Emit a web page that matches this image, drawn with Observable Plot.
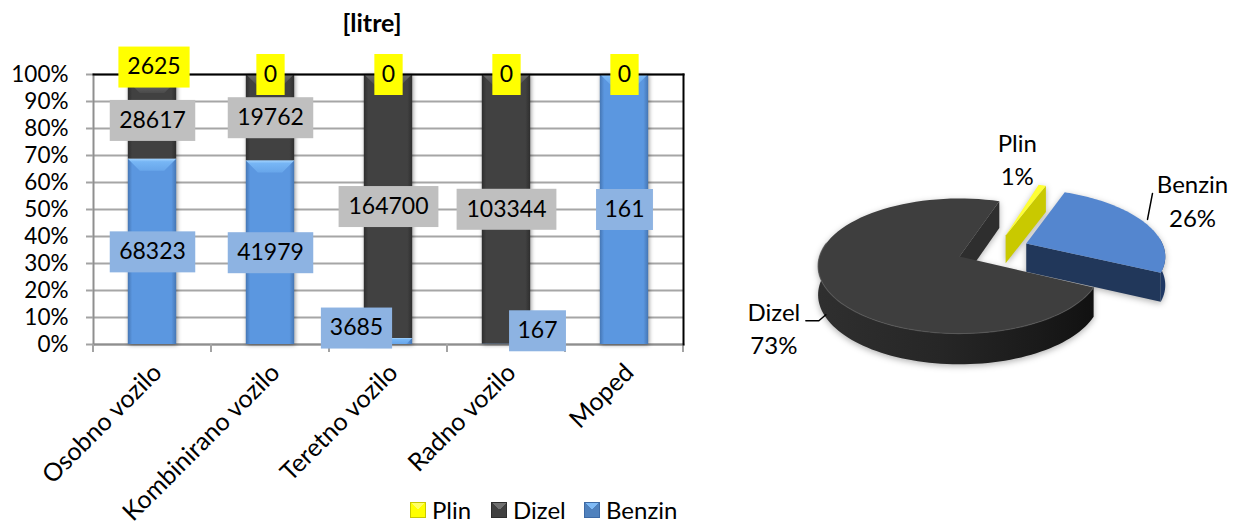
<!DOCTYPE html>
<html><head><meta charset="utf-8">
<script src="https://cdn.jsdelivr.net/npm/d3@7"></script>
<script src="https://cdn.jsdelivr.net/npm/@observablehq/plot@0.6"></script>
<style>
html,body{margin:0;padding:0;background:#fff}
#page{position:relative;width:1235px;height:527px;overflow:hidden;font-family:Lato,sans-serif;color:#000}
#page svg{position:absolute;top:0;background:transparent;overflow:visible}
#title{position:absolute;left:272px;width:200px;top:8px;text-align:center;font-weight:700;font-size:25px;line-height:28px}
.lg{position:absolute;top:495px;font-size:24px;line-height:30px;white-space:nowrap}
.sw{position:absolute;top:502px;width:14px;height:14px;border:1px solid}
g[aria-label="bar"]{filter:drop-shadow(1px 1px 2px rgba(0,0,0,.4))}
</style></head><body>
<div id="page"></div>
<script>
// ---------- data ----------
const categories = ["Osobno vozilo","Kombinirano vozilo","Teretno vozilo","Radno vozilo","Moped"];
const fuels = ["Benzin","Dizel","Plin"];
const benzin = [68323,41979,3685,167,161];
const dizel  = [28617,19762,164700,103344,0];
const plin   = [2625,0,0,0,0];
const yTicks = [0,.1,.2,.3,.4,.5,.6,.7,.8,.9,1];
const pieNames  = ["Plin","Benzin","Dizel"];
const pieShares = [1,26,73];

// ---------- tables ----------
const series = {Benzin:benzin,Dizel:dizel,Plin:plin};
const rows = [];
categories.forEach((cat,c)=>{
  const total = d3.sum(fuels,f=>series[f][c]);
  let run = 0;
  fuels.forEach(f=>{
    const value = series[f][c];
    rows.push({cat,fuel:f,value,mid:(run+value/2)/total});
    run += value;
  });
});
const labelRows = rows.filter(d=>!(d.fuel==="Dizel"&&d.value===0));
const boxColor = {Benzin:"#8db3e2",Dizel:"#bfbfbf",Plin:"#ffff00"};
const nudge = {2625:[1.5,-11],3685:[-32,-13.5],167:[31,-13.5]};
const bevel = {Benzin:"url(#bevB)",Dizel:"url(#bevD)",Plin:"#ffff66"};

const svgEl = (n,a)=>{const e=document.createElementNS("http://www.w3.org/2000/svg",n);for(const k in a)e.setAttribute(k,a[k]);return e;};
function grad(id,vertical,stops){
  const g=svgEl("linearGradient",{id,x1:0,y1:0,x2:vertical?0:1,y2:vertical?1:0});
  stops.forEach(([o,c])=>g.appendChild(svgEl("stop",{offset:o,"stop-color":c})));return g;
}
const barDefs = ()=>{
  const d=svgEl("defs",{});
  d.appendChild(grad("barB",false,[[0,"#4576b4"],[.09,"#5b97e0"],[.9,"#5b97e0"],[1,"#4576b4"]]));
  d.appendChild(grad("barD",false,[[0,"#2e2e2e"],[.09,"#414141"],[.9,"#414141"],[1,"#2e2e2e"]]));
  d.appendChild(grad("barP",false,[[0,"#d0d000"],[.09,"#ffff00"],[.9,"#ffff00"],[1,"#d0d000"]]));
  d.appendChild(grad("bevB",true,[[0,"#a3d4ff"],[.25,"#77b6f5"],[1,"#68a6ea"]]));
  d.appendChild(grad("bevD",true,[[0,"#6d6d6d"],[1,"#4a4a4a"]]));
  return d;
};
function withBevel(index,scales,values,dims,ctx,next){
  const g=next(index,scales,values,dims,ctx);
  const rects=[...g.querySelectorAll("rect")];
  index.forEach((i,j)=>{
    const r=rects[j]; if(!r) return;
    const x=+r.getAttribute("x"),y=+r.getAttribute("y"),w=+r.getAttribute("width"),h=+r.getAttribute("height");
    if(!(h>0.6)) return;
    const b=Math.min(h,12);
    r.parentNode.appendChild(svgEl("polygon",{points:`${x},${y} ${x+w},${y} ${x+w-b},${y+b} ${x+b},${y+b}`,fill:bevel[rows[i].fuel]}));
  });
  return g;
}
function withBoxes(index,scales,values,dims,ctx,next){
  const g=next(index,scales,values,dims,ctx);
  const texts=[...g.querySelectorAll("text")];
  index.forEach((i,j)=>{
    const t=texts[j],d=labelRows[i];
    const m=/translate\(([-\d.]+)[ ,]+([-\d.]+)\)/.exec(t.getAttribute("transform"));
    const [dx,dy]=nudge[d.value]||[0,0];
    const X=+m[1]+dx,Y=+m[2]+dy;
    t.setAttribute("transform",`translate(${X},${Y})`);
    const w=14.3*String(d.value).length+14;
    t.parentNode.insertBefore(svgEl("rect",{x:X-w/2,y:Y-20.5,width:w,height:41,fill:boxColor[d.fuel]}),t);
  });
  return g;
}
const withShadow=(css)=>(index,scales,values,dims,ctx,next)=>{
  const g=next(index,scales,values,dims,ctx);
  g.style.filter=css;
  return g;
};
const bandTicks=(index,{x})=>{
  const g=svgEl("g",{stroke:"#a3a3a3","stroke-width":2});
  const step=x.step(),bw=x.bandwidth(),first=x(categories[0])-(step-bw)/2;
  d3.range(categories.length+1).forEach(k=>{
    const X=first+k*step;
    g.appendChild(svgEl("line",{x1:X,x2:X,y1:344,y2:352}));
  });
  return g;
};

const bars = Plot.plot({
  width:700,height:527,marginLeft:93,marginRight:17,marginTop:74,marginBottom:183,
  style:{fontFamily:"Lato,sans-serif",fontSize:"22.5px",background:"transparent",color:"#000"},
  x:{domain:categories,paddingInner:.59,paddingOuter:.295,round:false,label:null},
  y:{domain:[0,1],label:null},
  color:{domain:fuels,range:["url(#barB)","url(#barD)","url(#barP)"]},
  marks:[
    barDefs,
    Plot.gridY(yTicks,{stroke:"#a6a6a6",strokeWidth:2,strokeOpacity:1}),
    Plot.frame({anchor:"left",stroke:"#8f8f8f",strokeWidth:2}),
    Plot.frame({anchor:"bottom",stroke:"#8f8f8f",strokeWidth:2}),
    bandTicks,
    Plot.axisY({ticks:yTicks,tickFormat:d=>Math.round(d*100)+"%",tickSize:7,tickPadding:18,stroke:"#a3a3a3",strokeWidth:2,fontSize:22.5,label:null}),
    Plot.axisX({tickRotate:-45,tickSize:0,tickPadding:24,dx:5,fontSize:25,label:null,lineWidth:30}),
    Plot.barY(rows,Plot.stackY({x:"cat",y:"value",fill:"fuel",offset:"normalize",order:null,render:withBevel})),
    Plot.frame({anchor:"top",stroke:"#000",strokeWidth:2}),
    Plot.frame({anchor:"right",stroke:"#000",strokeWidth:2}),
    Plot.text(labelRows,{x:"cat",y:"mid",text:d=>String(d.value),fill:"#000",fontSize:23,render:withBoxes})
  ]
});
document.getElementById("page").appendChild(bars);
bars.style.left="0px";

// ---------- 3D pie ----------
const P={cx:959,cy:256,R:140,Q:66.2,k:.141,D:28.5};
const rad=a=>a*Math.PI/180;
const explode={Plin:[.345,.332],Benzin:[.49,.2],Dizel:[0,0]};
const startAngle=rad(18.8);
const arcs=d3.pie().sort(null).value(d=>d.share).startAngle(startAngle).endAngle(startAngle+2*Math.PI)(pieNames.map((name,i)=>({name,share:pieShares[i]})));
const arcOf=Object.fromEntries(arcs.map(a=>[a.data.name,a]));
function proj(name,a,r=1,down=false){
  const [eu,ev]=explode[name];
  const u=r*Math.sin(a)+eu,v=r*Math.cos(a)+ev,w=1+P.k*v;
  return {x:P.cx+P.R*u/w,y:P.cy-P.Q*v/w+(down?P.D/Math.sqrt(w):0)};
}
const steps=(a,b,n=80)=>d3.range(n+1).map(i=>a+(b-a)*i/n);
const pts=[];
const add=(part,list)=>list.forEach(p=>pts.push({part,x:p.x,y:p.y}));
const topFace=n=>{const A=arcOf[n];return [proj(n,0,0),...steps(A.startAngle,A.endAngle).map(a=>proj(n,a))];};
const wallOuter=(n,a,b)=>{const s=steps(a,b);return [...s.map(t=>proj(n,t)),...s.slice().reverse().map(t=>proj(n,t,1,true))];};
const wallCut=(n,a)=>[proj(n,0,0),proj(n,a),proj(n,a,1,true),proj(n,0,0,true)];
const D=arcOf.Dizel,B=arcOf.Benzin,L=arcOf.Plin;
add("dizelOuter",wallOuter("Dizel",D.startAngle,rad(282)));
add("dizelCut",wallCut("Dizel",D.endAngle));
add("dizelTop",topFace("Dizel"));
add("plinWall",wallCut("Plin",L.endAngle));
add("plinTop",topFace("Plin"));
add("benzinOuter",wallOuter("Benzin",rad(85),B.endAngle));
add("benzinCut",wallCut("Benzin",B.endAngle));
add("benzinTop",topFace("Benzin"));
const partNames=[...new Set(pts.map(d=>d.part))];
const partFill=["url(#wallD)","#2e2e2e","#3e3e3e","#c9c900","#ffff33","#1f3864","#21375a","#5486cf"];
const rim=steps(D.startAngle,rad(282)).map(a=>proj("Dizel",a));

const midOf=n=>(arcOf[n].startAngle+arcOf[n].endAngle)/2;
const labelOffset={Plin:[-25,-27],Benzin:[48,-23],Dizel:[-49,14]};
const pieLabels=pieNames.map((name,i)=>{
  const p=proj(name,midOf(name),1,name==="Dizel");
  const [ox,oy]=labelOffset[name];
  return {text:`${name}\n${pieShares[i]}%`,x:p.x+ox,y:p.y+oy};
});
const leader=[];
{
  const b=proj("Benzin",midOf("Benzin"));
  leader.push({n:"b",x:b.x+3,y:b.y-3},{n:"b",x:b.x+8,y:b.y-29});
  const d=proj("Dizel",midOf("Dizel"),1,true);
  leader.push({n:"d",x:d.x+3,y:d.y+2},{n:"d",x:d.x-4,y:d.y+8},{n:"d",x:d.x-17,y:d.y+8});
}
const pieDefs=()=>{
  const d=svgEl("defs",{});
  d.appendChild(grad("wallD",false,[[0,"#2f2f2f"],[.45,"#262626"],[.8,"#1a1a1a"],[1,"#111"]]));
  return d;
};
const pie=Plot.plot({
  width:535,height:527,margin:0,
  style:{fontFamily:"Lato,sans-serif",fontSize:"24px",background:"transparent",color:"#000"},
  x:{domain:[700,1235],axis:null},
  y:{domain:[0,527],range:[0,527],axis:null},
  color:{domain:partNames,range:partFill},
  marks:[
    pieDefs,
    Plot.line(pts,{x:"x",y:"y",z:"part",fill:"part",stroke:"none",curve:"linear",render:withShadow("drop-shadow(0 2px 3px rgba(0,0,0,.3))")}),
    Plot.line(rim,{x:"x",y:"y",stroke:"#5a5a5a",strokeWidth:1.2,strokeOpacity:.7}),
    Plot.line(leader,{x:"x",y:"y",z:"n",stroke:"#000",strokeWidth:1.5}),
    Plot.text(pieLabels,{x:"x",y:"y",text:"text",fill:"#000",fontSize:24,lineHeight:1.38,textAnchor:"middle"})
  ]
});
pie.style.left="700px";
document.getElementById("page").appendChild(pie);

// ---------- title and legend ----------
const page=document.getElementById("page");
const title=document.createElement("div");title.id="title";title.textContent="[litre]";page.appendChild(title);
const legend=[
  ["Plin",410,432,"#c8c800","conic-gradient(from -45deg,#ffff66 0 90deg,#ffff00 90deg 360deg)"],
  ["Dizel",491,513,"#2e2e2e","conic-gradient(from -45deg,#707070 0 90deg,#404040 90deg 360deg)"],
  ["Benzin",584,606,"#3d6aa5","conic-gradient(from -45deg,#7fbaf5 0 90deg,#4f81bd 90deg 360deg)"]
];
legend.forEach(([name,sx,tx,border,bg])=>{
  const s=document.createElement("div");s.className="sw";s.style.left=sx+"px";s.style.borderColor=border;s.style.background=bg;page.appendChild(s);
  const t=document.createElement("div");t.className="lg";t.style.left=tx+"px";t.textContent=name;page.appendChild(t);
});
</script>
</body></html>
